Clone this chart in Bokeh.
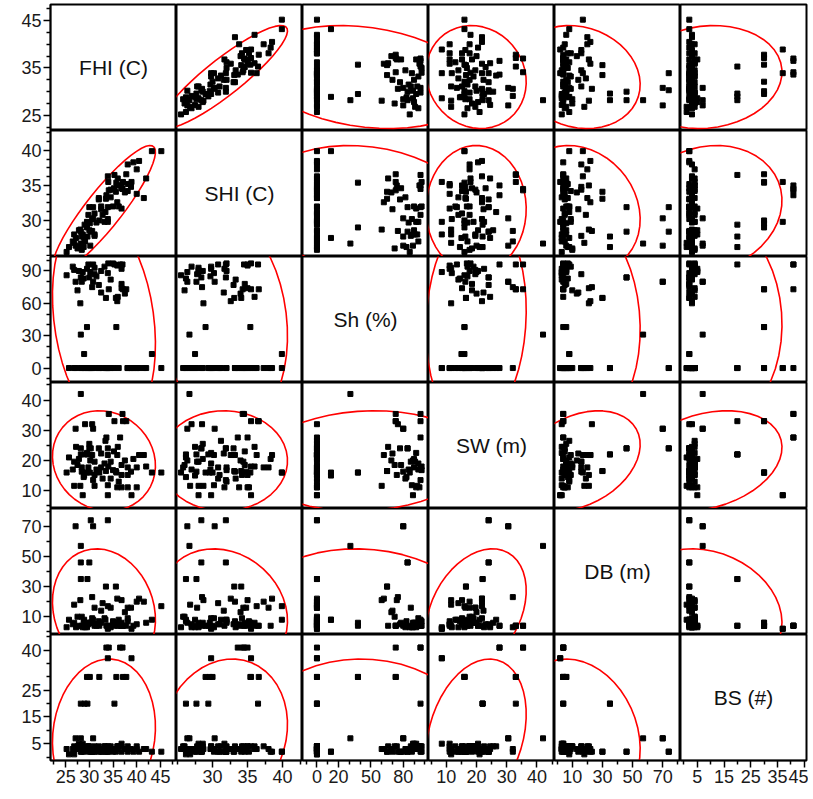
import numpy as np
from bokeh.plotting import figure
from bokeh.layouts import gridplot
from bokeh.models import Range1d, FixedTicker
from bokeh.embed import file_html
from bokeh.resources import INLINE
from bokeh.core.properties import value

# ---- data (one entry per observation) ----
FHI = [45.2, 43.2, 28.9, 30.3, 33.9, 27.1, 30.8, 28.2, 28.2, 30.0,
       28.2, 29.6, 29.0, 35.3, 33.5, 35.6, 29.5, 30.1, 32.1, 35.7,
       37.1, 37.8, 33.9, 38.9, 33.6, 34.1, 36.5, 37.0, 28.6,
       41.5, 40.5, 40.0, 40.0, 38.8, 38.1, 38.1, 38.1, 36.8, 36.8,
       36.8, 35.9, 35.9, 34.5, 33.9, 33.9, 33.4, 32.5, 32.5, 32.0,
       31.1, 31.1, 31.1, 30.6, 30.6, 29.8, 29.1, 28.4, 28.4, 28.1,
       26.8, 26.8, 25.2, 36.0, 35.0, 34.5, 33.2, 32.0, 31.5, 30.8,
       30.2, 29.5, 28.8, 27.8, 27.5, 26.5, 37.5, 34.0, 42.0, 39.3,
       36.2, 35.2, 32.8, 30.0, 27.2, 25.7]
SHI = [39.9, 39.9, 27.5, 28.4, 31.9, 26.4, 30.3, 26.7, 28.4, 31.9,
       26.2, 27.7, 29.4, 36.5, 33.1, 34.1, 29.0, 29.6, 30.0, 35.4,
       35.5, 36.6, 29.8, 35.5, 33.6, 34.3, 35.0, 34.5, 28.0,
       33.2, 38.5, 33.8, 37.3, 34.8, 35.2, 34.2, 38.0, 31.7, 35.0,
       34.6, 35.0, 32.6, 34.4, 30.2, 36.3, 31.2, 32.0, 31.6, 33.2,
       28.0, 31.0, 27.8, 30.2, 28.5, 30.8, 27.0, 27.7, 25.8, 28.7,
       26.8, 28.0, 25.5, 36.0, 32.0, 33.3, 29.8, 33.0, 29.7, 31.9,
       26.4, 29.8, 26.2, 28.6, 26.0, 27.0, 34.0, 35.5, 36.0, 38.3,
       32.0, 34.6, 30.8, 28.6, 27.5, 26.2]
Sh = [0, 13, 13, 0, 0, 80, 80, 31, 84, 84,
      0, 0, 0, 96, 65, 65, 38, 0, 0, 38,
      73, 73, 0, 0, 0, 73, 96, 96, 89,
      0, 0, 0, 0, 0, 0, 0, 0, 92, 74,
      78, 95, 62, 0, 88, 0, 0, 90, 70, 0,
      93, 0, 87, 0, 75, 96, 0, 80, 0, 60,
      0, 91, 86, 66, 97, 82, 94, 77, 85, 96,
      89, 92, 83, 90, 72, 94, 69, 97, 0, 0,
      0, 0, 0, 0, 0, 0]
SW = [16, 16, 15, 24, 24, 30.5, 30.5, 42, 24, 24,
      22, 22, 22, 33, 16.5, 16.5, 16, 16, 16, 16,
      33, 33, 8.5, 8.5, 27.6, 35.4, 27.6, 35.4, 8.5,
      21.8, 21.8, 11.1, 17.7, 16.3, 11.1, 15.2, 17.7, 11.1, 15.2,
      18.5, 11.1, 21.8, 19.6, 11.8, 21.8, 26.5, 17.7, 22.3, 16.3,
      11.6, 15.2, 19.6, 21.8, 32.0, 17.7, 32.0, 16.3, 17.7, 11.6,
      11.6, 19.6, 16.0, 24.5, 16.8, 14.0, 19.0, 24.0, 17.0, 13.5,
      20.0, 22.5, 14.5, 20.5, 18.5, 17.0, 20.0, 18.0, 18.0, 20.5,
      13.0, 23.0, 14.0, 25.5, 24.5, 21.0]
DB = [17, 8, 8, 74, 74, 70, 70, 57, 46, 46,
      35, 35, 4, 4, 30, 30, 4, 6, 4, 6,
      4, 4, 2, 2, 4, 4, 4, 4, 3,
      20, 22, 5, 20, 16, 7, 9, 16, 4, 21,
      6, 5, 22, 16, 3, 17, 8, 6, 14, 7,
      4, 5, 16, 9, 23, 5, 3, 4, 10, 21,
      18, 6, 3, 4, 7, 3, 9, 5, 4, 8,
      6, 3, 7, 4, 10, 5, 13, 4, 6, 4,
      8, 5, 19, 6, 3, 8]
BS = [2, 2, 2, 2, 2, 7, 7, 7, 2, 2,
      20, 20, 20, 20, 2, 2, 30, 30, 30, 30,
      30, 30, 37, 37, 41, 41, 41, 41, 5,
      3, 2, 3, 4, 3, 2, 4, 3, 5, 4,
      2, 4, 3, 4, 2, 3, 4, 3, 2, 4,
      3, 2, 4, 3, 2, 4, 3, 2, 4, 3,
      1, 4, 3, 4, 2, 3, 4, 2, 3, 2,
      3, 4, 3, 5, 4, 3, 3, 4, 3, 2,
      4, 3, 2, 4, 3, 1]

names = ["FHI (C)", "SHI (C)", "Sh (%)", "SW (m)", "DB (m)", "BS (#)"]
columns = [FHI, SHI, Sh, SW, DB, BS]

# ---- axis configuration ----
limits = [(21.8, 48.4), (24.85, 42.85), (-13.4, 103.4), (4.1, 45.8), (-1.8, 81.8), (-1.3, 45.9)]
x_major = [[25, 30, 35, 40, 45], [30, 35, 40], [0, 20, 50, 80], [10, 20, 30, 40], [10, 30, 50, 70], [5, 15, 25, 35, 45]]
x_minor = [[22.5, 27.5, 32.5, 37.5, 42.5, 47.5], [25, 27.5, 32.5, 37.5, 42.5],
           [-10, 10, 30, 40, 60, 70, 90, 100], [5, 15, 25, 35, 45], [0, 20, 40, 60, 80], [0, 10, 20, 30, 40]]
y_major = [[25, 35, 45], [30, 35, 40], [0, 30, 60, 90], [10, 20, 30, 40], [10, 30, 50, 70], [5, 15, 25, 40]]
y_minor = [[22.5, 27.5, 30, 32.5, 37.5, 40, 42.5, 47.5],
           [25, 26.25, 27.5, 28.75, 31.25, 32.5, 33.75, 36.25, 37.5, 38.75, 41.25, 42.5],
           [-10, 10, 20, 40, 50, 70, 80, 100], [5, 15, 25, 35, 45], [0, 20, 40, 60, 80], [0, 10, 20, 30, 35, 45]]

FONT = "Liberation Sans"
CELL_W, CELL_H = 126, 126


def density_ellipse(xv, yv, n=48):
    x = np.asarray(xv, float)
    y = np.asarray(yv, float)
    cov = np.cov(x, y)
    vals, vecs = np.linalg.eigh(cov)
    t = np.linspace(0, 2 * np.pi, n)
    r = np.sqrt(5.991)  # 95% coverage
    circ = np.vstack([np.cos(t), np.sin(t)]) * np.sqrt(np.maximum(vals, 0))[:, None]
    pts = vecs @ circ * r
    return x.mean() + pts[0], y.mean() + pts[1]


def style_axis(ax, major, minor):
    ax.ticker = FixedTicker(ticks=major, minor_ticks=minor)
    ax.major_label_text_font = FONT
    ax.major_label_text_font_size = "18px"
    ax.major_label_text_color = "#1a1a1a"
    ax.major_tick_out = 7
    ax.major_tick_in = 0
    ax.minor_tick_out = 4
    ax.minor_tick_in = 0
    ax.axis_line_width = 1.5
    ax.major_tick_line_width = 1.5
    ax.minor_tick_line_width = 1.5
    ax.major_label_standoff = 2


x_ranges = [Range1d(lo, hi) for lo, hi in limits]
y_ranges = [Range1d(lo, hi) for lo, hi in limits]

rows = []
for i in range(6):
    row = []
    for j in range(6):
        p = figure(frame_width=CELL_W, frame_height=CELL_H,
                   x_range=x_ranges[j], y_range=y_ranges[i],
                   output_backend="svg", toolbar_location=None,
                   x_axis_location="below" if i == 5 else None,
                   y_axis_location="left" if j == 0 else None,
                   min_border=0,
                   min_border_left=50 if j == 0 else 0,
                   min_border_top=4 if i == 0 else 0,
                   min_border_right=2 if j == 5 else 0,
                   outline_line_color="black", outline_line_width=2,
                   background_fill_color="white", border_fill_color="white")
        p.grid.visible = False
        if i == 5:
            style_axis(p.xaxis[0], x_major[j], x_minor[j])
        if j == 0:
            style_axis(p.yaxis[0], y_major[i], y_minor[i])
        if i == j:
            lo, hi = limits[i]
            c = (lo + hi) / 2
            p.text(x=[c], y=[c], text=[names[i]], text_align="center",
                   text_baseline="middle", text_font=value(FONT),
                   text_font_size="21px", text_color="#111111")
        else:
            ex, ey = density_ellipse(columns[j], columns[i])
            p.line(ex, ey, line_color="red", line_width=1.6)
            p.scatter(x=columns[j], y=columns[i], marker="square", size=5,
                      fill_color="black", line_color="black")
        row.append(p)
    rows.append(row)

grid = gridplot(rows, toolbar_location=None)

open("out.html", "w").write(file_html(grid, INLINE))
